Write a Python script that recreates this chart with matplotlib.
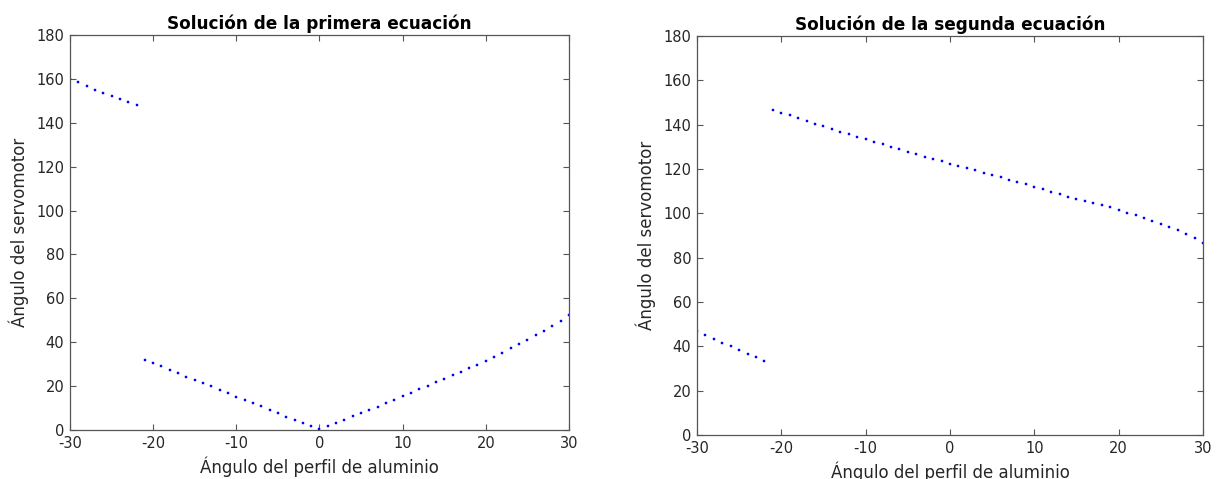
import numpy as np
import matplotlib
matplotlib.use("Agg")
import matplotlib.pyplot as plt

# ángulos del perfil (grados)
x_izq = np.arange(-30, -21)
x_der = np.arange(-21, 31)

# primera ecuación
y1_izq = [160.1, 158.4, 156.8, 155.0, 153.6, 152.4, 150.8, 149.4, 148.0]
y1_der = [31.9, 30.5, 29.0, 27.2, 25.8, 24.2, 22.8, 21.3, 19.9, 18.1, 16.7,
          15.0, 13.8, 12.2, 10.8, 9.0, 7.7, 6.1, 4.7, 3.1, 1.7, 0.3,
          1.7, 3.0, 4.7, 6.2, 7.7, 9.2, 10.7, 12.3, 13.8, 15.4, 17.0,
          18.6, 20.2, 21.8, 23.4, 25.0, 26.6, 28.2, 29.8, 31.5, 33.3,
          35.2, 37.2, 39.2, 41.0, 43.1, 45.0, 47.4, 49.8, 52.6]

# segunda ecuación
y2_izq = [46.8, 45.0, 43.3, 41.6, 40.0, 38.2, 36.5, 35.2, 33.5]
y2_der = [146.8, 145.4, 144.2, 142.9, 141.8, 140.4, 139.3, 138.0, 136.7,
          135.6, 134.3, 133.4, 132.3, 131.1, 129.9, 128.8, 127.7, 126.6,
          125.5, 124.5, 123.4, 122.4, 121.4, 120.3, 119.3, 118.3, 117.2,
          116.2, 115.1, 114.1, 113.0, 111.9, 110.8, 109.7, 108.6, 107.5,
          106.3, 105.6, 104.6, 103.6, 102.7, 101.7, 100.3, 99.1, 97.9,
          96.5, 95.2, 94.0, 92.3, 90.7, 88.9, 86.8]

titulos = ["Solución de la primera ecuación", "Solución de la segunda ecuación"]

plt.rcParams['font.family'] = ['DejaVu Sans']
plt.rcParams['axes.unicode_minus'] = False
fig = plt.figure(figsize=(12.17, 4.79), dpi=100)
ax1 = fig.add_axes([0.0575, 0.1023, 0.41, 0.8247])
ax2 = fig.add_axes([0.5727, 0.0919, 0.4158, 0.8331])

datos = [(ax1, y1_izq, y1_der), (ax2, y2_izq, y2_der)]
for i, (ax, yi, yd) in enumerate(datos):
    for yy, xx in ((yi, x_izq), (yd, x_der)):
        ax.plot(xx, yy, linestyle='none', marker='s', ms=2.0, mew=0.3,
                color='#0000ff', snap=False)
    ax.set_xlim(-30, 30)
    ax.set_ylim(0, 180)
    ax.set_xticks(np.arange(-30, 31, 10))
    ax.set_yticks(np.arange(0, 181, 20))
    ax.tick_params(direction='in', top=True, right=True, length=4, width=0.8,
                   labelsize=10.5, colors='#555555', labelcolor='#262626', pad=4)
    for s in ax.spines.values():
        s.set_color('#555555')
        s.set_linewidth(0.9)
    ax.set_title(titulos[i], fontsize=12.2, fontweight='bold', pad=4)
    ax.set_xlabel("Ángulo del perfil de aluminio", fontsize=12, color='#262626', labelpad=4)
    ax.set_ylabel("Ángulo del servomotor", fontsize=12, color='#262626', labelpad=5)

fig.savefig("out.png", dpi=100)
